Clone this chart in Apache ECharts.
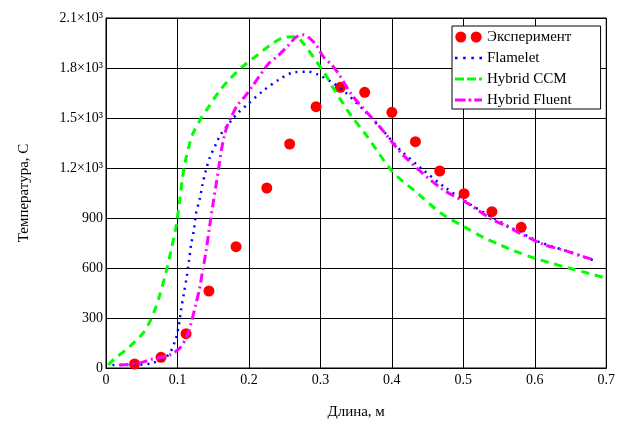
<!DOCTYPE html>
<html>
<head>
<meta charset="utf-8">
<script src="https://cdn.jsdelivr.net/npm/echarts@6/dist/echarts.min.js"></script>
<style>
  html, body { margin: 0; padding: 0; background: #fff; }
  #chart { width: 618px; height: 426px; }
</style>
</head>
<body>
<div id="chart"></div>
<script>
// experiment points
const expX = [0.040, 0.077, 0.112, 0.144, 0.182, 0.225, 0.257, 0.294, 0.328, 0.362, 0.400, 0.433, 0.467, 0.501, 0.540, 0.581];
const expY = [24, 64, 206, 462, 728, 1080, 1344, 1568, 1684, 1654, 1534, 1358, 1182, 1046, 938, 844];

// Flamelet
const flamX = [0.009, 0.029, 0.063, 0.087, 0.097, 0.102, 0.105, 0.109, 0.113, 0.116, 0.119, 0.123, 0.126, 0.131, 0.135, 0.140, 0.145, 0.154, 0.160, 0.176, 0.186, 0.198, 0.219, 0.241, 0.263, 0.283, 0.296, 0.317, 0.334, 0.351, 0.360, 0.389, 0.408, 0.441, 0.473, 0.508, 0.543, 0.564, 0.596, 0.607, 0.650, 0.684];
const flamY = [18, 18, 28, 78, 168, 258, 348, 448, 548, 638, 738, 828, 928, 1010, 1100, 1190, 1260, 1345, 1398, 1488, 1536, 1582, 1660, 1728, 1774, 1778, 1762, 1712, 1658, 1588, 1550, 1418, 1324, 1198, 1088, 986, 898, 848, 778, 755, 694, 644];

// Hybrid CCM
const ccmX = [0.003, 0.010, 0.033, 0.052, 0.061, 0.068, 0.075, 0.084, 0.091, 0.098, 0.103, 0.107, 0.111, 0.116, 0.121, 0.133, 0.144, 0.158, 0.172, 0.191, 0.212, 0.230, 0.249, 0.265, 0.276, 0.293, 0.306, 0.317, 0.330, 0.344, 0.364, 0.401, 0.436, 0.469, 0.501, 0.529, 0.550, 0.568, 0.603, 0.624, 0.644, 0.679, 0.700];
const ccmY = [18, 48, 128, 210, 275, 345, 435, 575, 705, 848, 1000, 1140, 1240, 1330, 1400, 1498, 1568, 1658, 1728, 1808, 1878, 1938, 1984, 1988, 1948, 1848, 1768, 1688, 1598, 1508, 1398, 1178, 1048, 928, 848, 782, 742, 708, 654, 628, 604, 564, 538];

// Hybrid Fluent
const fluX = [0.019, 0.045, 0.063, 0.089, 0.103, 0.113, 0.119, 0.126, 0.131, 0.135, 0.140, 0.145, 0.150, 0.154, 0.158, 0.162, 0.166, 0.170, 0.175, 0.184, 0.195, 0.205, 0.228, 0.241, 0.256, 0.266, 0.275, 0.283, 0.294, 0.304, 0.316, 0.325, 0.344, 0.360, 0.381, 0.418, 0.469, 0.506, 0.540, 0.557, 0.584, 0.614, 0.640, 0.668, 0.684];
const fluY = [18, 28, 52, 78, 118, 188, 268, 388, 478, 578, 700, 850, 990, 1098, 1210, 1320, 1400, 1458, 1504, 1578, 1632, 1692, 1828, 1874, 1940, 1985, 2000, 1985, 1938, 1868, 1818, 1768, 1638, 1558, 1458, 1268, 1078, 988, 892, 858, 798, 738, 708, 668, 648];

const pairs = (xs, ys) => xs.map((x, i) => [x, ys[i]]);

const serif = '"Liberation Serif", "DejaVu Serif", serif';

// legend icons like the original: two dots, dotted, dash-dash-dot, dash-dot-dash
const iconDots = 'path://M0,5a5,5 0 1,0 10,0a5,5 0 1,0 -10,0M14,5a5,5 0 1,0 10,0a5,5 0 1,0 -10,0';
const iconDotted = 'path://M0,0h2.5v2.5h-2.5zM8,0h2.5v2.5h-2.5zM16,0h2.5v2.5h-2.5zM24,0h2.5v2.5h-2.5z';
const iconDashed = 'path://M0,0h9v3h-9zM12,0h9v3h-9zM24,0h3v3h-3z';
const iconDashDot = 'path://M0,0h11v3h-11zM14,0h3v3h-3zM20,0h8v3h-8z';

const lineBase = {
  type: 'line',
  smooth: 0.3,
  symbol: 'none',
  z: 3,
};

const chart = echarts.init(document.getElementById('chart'));
chart.setOption({
  animation: false,
  backgroundColor: '#fff',
  grid: {
    left: 106, right: 8, top: 18, bottom: 58,
    show: true, borderColor: '#000', borderWidth: 1,
  },
  xAxis: {
    type: 'value',
    min: 0, max: 0.7, interval: 0.1,
    name: 'Длина, м',
    nameLocation: 'middle',
    nameGap: 37,
    nameTextStyle: {fontFamily: serif, fontSize: 15, color: '#000'},
    axisLine: {show: true, lineStyle: {color: '#000'}},
    axisTick: {show: false},
    axisLabel: {
      fontFamily: serif, fontSize: 14, color: '#000', margin: 5,
      formatter: v => v === 0 ? '0' : v.toFixed(1),
    },
    splitLine: {show: true, lineStyle: {color: '#000', width: 1}},
  },
  yAxis: {
    type: 'value',
    min: 0, max: 2100, interval: 300,
    name: 'Температура, С',
    nameLocation: 'middle',
    nameGap: 74,
    nameTextStyle: {fontFamily: serif, fontSize: 15, color: '#000'},
    axisLine: {show: true, lineStyle: {color: '#000'}},
    axisTick: {show: false},
    axisLabel: {
      fontFamily: serif, fontSize: 14, color: '#000', margin: 3,
      formatter: v => v >= 1200 ? (v / 1000).toFixed(1) + '×10³' : String(v),
    },
    splitLine: {show: true, lineStyle: {color: '#000', width: 1}},
  },
  legend: {
    orient: 'vertical',
    left: 452, top: 26,
    backgroundColor: '#fff',
    borderColor: '#000',
    borderWidth: 1,
    borderRadius: 0,
    padding: [3, 29, 1, 3],
    itemWidth: 27,
    itemHeight: 11,
    itemGap: 5,
    symbolKeepAspect: true,
    textStyle: {fontFamily: serif, fontSize: 15, color: '#000', lineHeight: 16},
    data: [
      {name: 'Эксперимент', icon: iconDots},
      {name: 'Flamelet', icon: iconDotted},
      {name: 'Hybrid CCM', icon: iconDashed},
      {name: 'Hybrid Fluent', icon: iconDashDot},
    ],
  },
  series: [
    {
      name: 'Эксперимент',
      type: 'scatter',
      symbol: 'circle',
      symbolSize: 11,
      itemStyle: {color: '#ff0000', opacity: 1},
      data: pairs(expX, expY),
      z: 2,
    },
    Object.assign({}, lineBase, {
      name: 'Flamelet',
      color: '#0000ff',
      lineStyle: {color: '#0000ff', width: 2.5, type: [2, 5]},
      data: pairs(flamX, flamY),
    }),
    Object.assign({}, lineBase, {
      name: 'Hybrid CCM',
      color: '#00ff00',
      lineStyle: {color: '#00ff00', width: 3, type: [8, 6]},
      data: pairs(ccmX, ccmY),
    }),
    Object.assign({}, lineBase, {
      name: 'Hybrid Fluent',
      color: '#ff00ff',
      lineStyle: {color: '#ff00ff', width: 3, type: [9, 4, 2, 4]},
      data: pairs(fluX, fluY),
    }),
  ],
});
</script>
</body>
</html>
